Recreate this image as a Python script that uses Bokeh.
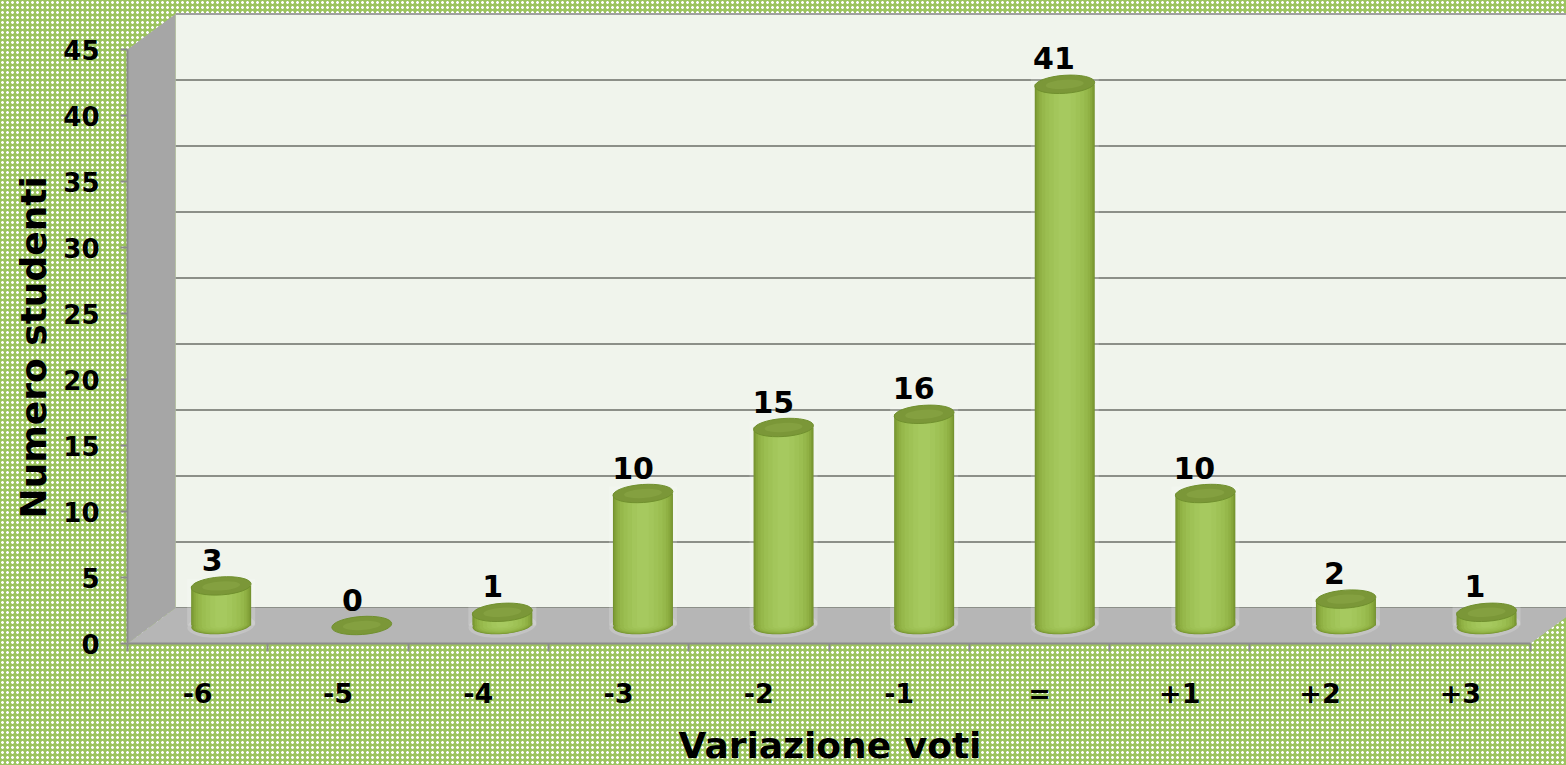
import numpy as np
from bokeh.plotting import figure
from bokeh.models import Range1d, FixedTicker, Title
from bokeh.embed import file_html
from bokeh.resources import INLINE

categories = ["-6", "-5", "-4", "-3", "-2", "-1", "=", "+1", "+2", "+3"]
values = [3, 0, 1, 10, 15, 16, 41, 10, 2, 1]
y_ticks = [0, 5, 10, 15, 20, 25, 30, 35, 40, 45]

W, H = 1566, 765
LEFT, BOTTOM = 127, 122
PX_X = 140.3      # pixels per category
PX_Y = 13.2       # pixels per student
DX, DY = 48 / PX_X, 35.5 / PX_Y   # 3D depth of the chart box
BAR_DX, BAR_DY = 23.5 / PX_X, 18 / PX_Y   # where bars stand on the floor
BAR_STEP = 140.6 / PX_X
LABEL_DX = -9 / PX_X
FONT = "DejaVu Sans"

n = len(categories)
xmax = (W - LEFT) / PX_X
ymax = (H - BOTTOM) / PX_Y

p = figure(width=W, height=H, frame_height=H - BOTTOM, output_backend="svg", toolbar_location=None,
           x_range=Range1d(0, xmax), y_range=Range1d(0, ymax),
           min_border_left=LEFT, min_border_bottom=BOTTOM, min_border_top=0, min_border_right=0)
p.styles = {
    "position": "fixed", "left": "0", "top": "0",
    "background-color": "#9cc45e",
    "background-image": "radial-gradient(circle, #ffffff 1.0px, rgba(255,255,255,0) 1.7px)",
    "background-size": "5px 5px",
}
p.border_fill_alpha = 0
p.background_fill_alpha = 0
p.outline_line_alpha = 0
p.grid.visible = False

# back wall, left wall, floor
top = y_ticks[-1] + DY
p.quad(left=DX, right=xmax, bottom=DY, top=top, fill_color="#f0f4ec", line_color=None)
p.segment(x0=[DX], x1=[xmax], y0=[top], y1=[top], line_color="#a0a0a0", line_width=2)
gy = [t + DY for t in y_ticks[:-1]]
p.segment(x0=[DX] * len(gy), x1=[xmax] * len(gy), y0=gy, y1=gy, line_color="#8c8f88", line_width=2)
p.patch([0, DX, DX, 0], [0, DY, top, y_ticks[-1]], fill_color="#a6a6a6", line_color=None)
p.patch([0, n, n + DX, DX], [0, 0, DY, DY], fill_color="#b6b6b6", line_color=None)

# cylinders: nested layers give the shading
x0 = np.arange(n) + 0.5 + BAR_DX
x = 0.5 + BAR_DX + np.arange(n) * BAR_STEP
v = np.array(values, dtype=float)
base = BAR_DY
tilt = 0.07
mask = v > 0
# soft halo behind each cylinder
p.ellipse(x[mask], [base] * int(mask.sum()), width=68, height=24, width_units="screen", height_units="screen",
          angle=tilt, fill_color="#ffffff", fill_alpha=0.18, line_color=None)
p.vbar(x=x[mask], width=68 / PX_X, bottom=base, top=base + v[mask] + 7 / PX_Y, fill_color="#ffffff",
       fill_alpha=0.18, line_color=None)
layers = [(60, "#74922f"), (58, "#7e9d35"), (55, "#88a83d"), (51, "#90b144"), (46, "#96b84b"),
          (39, "#9bbe51"), (31, "#9fc256"), (22, "#a3c65b"), (12, "#a6c95f")]
for w, c in layers:
    h = 17 * w / 60
    p.ellipse(x[mask], [base] * int(mask.sum()), width=w, height=h, width_units="screen", height_units="screen",
              angle=tilt, fill_color=c, line_color=None)
    p.vbar(x=x[mask], width=w / PX_X, bottom=base, top=base + v[mask], fill_color=c, line_color=None)
p.ellipse(x, base + v, width=60, height=18, width_units="screen", height_units="screen",
          angle=tilt, fill_color="#7b9738", line_color="#70902e", line_width=1)
p.ellipse(x, base + v, width=38, height=9, width_units="screen", height_units="screen",
          angle=tilt, fill_color="#84a040", line_color=None)

# value labels
p.text(x0 + LABEL_DX, base + v + 26 / PX_Y, text=[str(a) for a in values], text_align="center",
       text_baseline="middle", text_font={"value": FONT}, text_font_style="bold", text_font_size="30px",
       text_color="#000000")

# axes
ya = p.yaxis[0]
ya.ticker = FixedTicker(ticks=y_ticks)
ya.bounds = (y_ticks[0], y_ticks[-1])
ya.axis_line_color = "#8c8c8c"
ya.axis_line_width = 2
ya.major_tick_line_color = "#8c8c8c"
ya.major_tick_line_width = 2
ya.major_tick_out = 7
ya.major_tick_in = 0
ya.minor_tick_line_color = None
ya.major_label_text_font = FONT
ya.major_label_text_font_style = "bold"
ya.major_label_text_font_size = "26px"
ya.major_label_text_color = "#000000"
ya.major_label_standoff = 21

xa = p.xaxis[0]
centers = [i + 0.5 for i in range(n)]
xa.ticker = FixedTicker(ticks=centers, minor_ticks=list(range(n + 1)))
xa.major_label_overrides = {c: l for c, l in zip(centers, categories)}
xa.bounds = (0, n)
xa.axis_line_color = "#8c8c8c"
xa.axis_line_width = 2
xa.major_tick_line_color = None
xa.minor_tick_line_color = "#8c8c8c"
xa.minor_tick_line_width = 2
xa.minor_tick_out = 8
xa.minor_tick_in = 0
xa.major_label_text_font = FONT
xa.major_label_text_font_style = "bold"
xa.major_label_text_font_size = "27px"
xa.major_label_text_color = "#000000"
xa.major_label_standoff = 26

p.add_layout(Title(text="Variazione voti", align="left", offset=551, standoff=23,
                   text_font=FONT, text_font_style="bold", text_font_size="36px", text_color="#000000"), "below")
p.add_layout(Title(text="Numero studenti", align="left", offset=125, standoff=13, vertical_align="bottom",
                   text_font=FONT, text_font_style="bold", text_font_size="36px", text_color="#000000"), "left")

open("out.html", "w").write(file_html(p, INLINE))
